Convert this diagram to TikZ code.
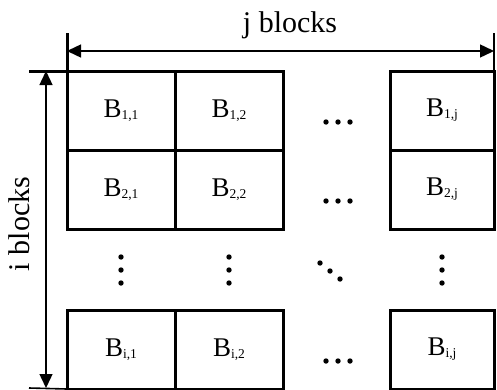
\documentclass[tikz,border=0pt]{standalone}
\usepackage{fontspec}
\setmainfont{Liberation Serif}
\usetikzlibrary{arrows.meta}

% block label: B with a small lowered index
\newcommand{\blk}[1]{\fontsize{27}{27}\selectfont B\raisebox{-2pt}{\fontsize{13.5}{13.5}\selectfont #1}}

\begin{document}
\begin{tikzpicture}[x=1pt,y=-1pt,
    cell/.style={draw, line width=3pt, minimum width=108pt, minimum height=79pt,
                 inner sep=0pt, outer sep=0pt, anchor=center},
    cellj/.style={cell, minimum width=104pt},
    extline/.style={line width=3pt},
    dimline/.style={line width=1.4pt, {Triangle[length=14pt,width=13pt]}-{Triangle[length=14pt,width=13pt]}},
    dimlabel/.style={font=\fontsize{30}{30}\selectfont, inner sep=0pt},
    dotmark/.style={fill=black, draw=none},
  ]
  \useasboundingbox (0,0) rectangle (497,389);

  % first row
  \node[cell]  (b11) at (121,110.5) {\blk{1,1}};
  \node[cell]  (b12) at (229,110.5) {\blk{1,2}};
  \node[cellj] (b1j) at (442,110.5) {\blk{1,j}};
  % second row
  \node[cell]  (b21) at (121,189.5) {\blk{2,1}};
  \node[cell]  (b22) at (229,189.5) {\blk{2,2}};
  \node[cellj] (b2j) at (442,189.5) {\blk{2,j}};
  % last row
  \node[cell]  (bi1) at (121,349.5) {\blk{i,1}};
  \node[cell]  (bi2) at (229,349.5) {\blk{i,2}};
  \node[cellj] (bij) at (442,349.5) {\blk{i,j}};

  % horizontal ellipses between the columns
  \foreach \y in {122,201,361} {
    \foreach \x in {326,338,350} \fill[dotmark] (\x,\y) circle (2.7);
  }
  % vertical ellipses between the rows
  \foreach \x in {121,229,442} {
    \foreach \y in {257,270,283} \fill[dotmark] (\x,\y) circle (2.7);
  }
  % diagonal ellipsis
  \foreach \x/\y in {320/263,330/271,340/279} \fill[dotmark] (\x,\y) circle (2.7);

  % extension lines for the width dimension
  \coordinate (wlt) at (67,33);
  \coordinate (wrt) at (494,33);
  \draw[extline] (b11.north west) -- (wlt);
  \draw[line width=1.3pt] (b1j.north east) -- (wrt);
  % extension lines for the height dimension
  \coordinate (ht) at (29,71);
  \coordinate (hb) at (29,388);
  \draw[extline] (b11.north west) -- (ht);
  \draw[line width=1.6pt] (bi1.south west) -- (hb);

  % dimension arrows
  \coordinate (ja) at (67,51);
  \coordinate (jb) at (494,51);
  \draw[dimline] (ja) -- (jb);
  \coordinate (ia) at (46,71);
  \coordinate (ib) at (46,388);
  \draw[dimline] (ia) -- (ib);

  \node[dimlabel] (jlab) at (290,25) {j blocks};
  \node[dimlabel, rotate=90] (ilab) at (19,224) {i blocks};
\end{tikzpicture}
\end{document}
